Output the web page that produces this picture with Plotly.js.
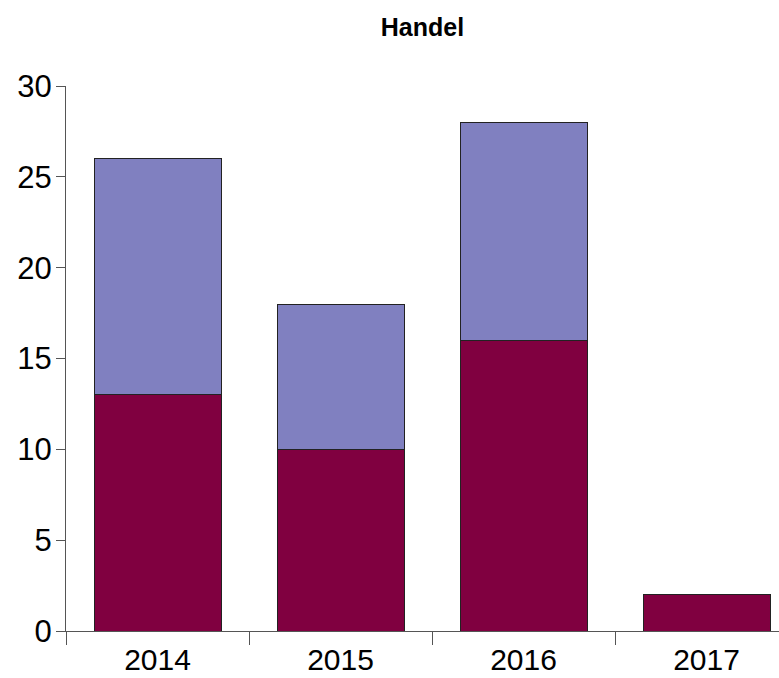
<!DOCTYPE html>
<html>
<head>
<meta charset="utf-8">
<script src="https://cdn.plot.ly/plotly-3.0.1.min.js"></script>
<style>html,body{margin:0;padding:0;background:#fff;}#chart{width:779px;height:678px;}</style>
</head>
<body>
<div id="chart"></div>
<script>
var years = ["2014", "2015", "2016", "2017"];
var seriesBottom = [13, 10, 16, 2];
var seriesTop = [13, 8, 12, 0];
var titleText = "Handel";

var traces = [
  {type: "bar", x: years, y: seriesBottom, name: "A",
   marker: {color: "#800040", line: {color: "#222222", width: 1}}, width: 0.694},
  {type: "bar", x: years, y: seriesTop, name: "B",
   marker: {color: "#8080C0", line: {color: "#222222", width: 1}}, width: 0.694}
];

var layout = {
  width: 779, height: 678,
  margin: {l: 66, r: 0, t: 86, b: 47, pad: 0},
  paper_bgcolor: "#fff", plot_bgcolor: "#fff",
  barmode: "stack",
  showlegend: false,
  font: {family: "Liberation Sans, Arial, sans-serif", color: "#000"},
  title: {text: "<b>" + titleText + "</b>", font: {size: 25, color: "#000"},
          x: 0.5, xref: "paper", xanchor: "center", y: 0.96, yref: "container", yanchor: "middle"},
  xaxis: {
    type: "category", range: [-0.5, 3.396], showgrid: false, zeroline: false,
    showline: true, linecolor: "#555", linewidth: 1,
    ticks: "outside", tickson: "boundaries", ticklen: 13, tickcolor: "#555",
    ticklabelstandoff: 2,
    tickfont: {size: 30, color: "#000"}, fixedrange: true
  },
  yaxis: {
    range: [0, 30], tickvals: [0, 5, 10, 15, 20, 25, 30], showgrid: false, zeroline: false,
    showline: true, linecolor: "#555", linewidth: 1,
    ticks: "outside", ticklen: 9, tickcolor: "#555",
    ticklabelstandoff: -2,
    tickfont: {size: 31, color: "#000"}, fixedrange: true
  }
};

Plotly.newPlot("chart", traces, layout, {displayModeBar: false, staticPlot: true});
</script>
</body>
</html>
